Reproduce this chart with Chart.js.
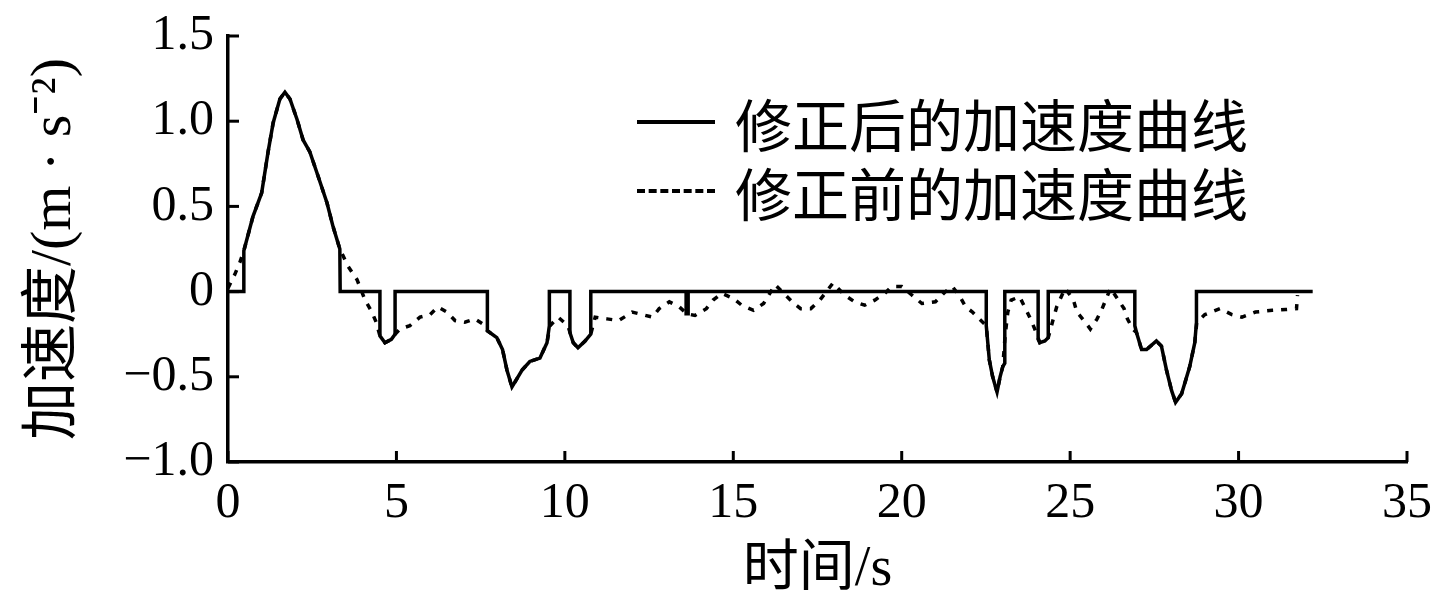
<!DOCTYPE html>
<html>
<head>
<meta charset="utf-8">
<script src="https://cdn.jsdelivr.net/npm/chart.js@4.4.1/dist/chart.umd.min.js"></script>
<style>
  html, body { margin: 0; padding: 0; background: #fff; }
  #wrap { position: relative; width: 1437px; height: 611px; }
  #legend { position: absolute; left: 637px; top: 87px; font-family: "Noto Sans CJK SC", sans-serif; font-size: 57px; color: #000; }
  .row { display: flex; align-items: center; height: 69px; }
  .sw { width: 78px; height: 0; margin-right: 20px; }
  .solid { border-top: 4px solid #000; }
  .dash { border-top: 4px dashed #000; }
</style>
</head>
<body>
<div id="wrap">
  <canvas id="c" width="1437" height="611"></canvas>
  <div id="legend">
    <div class="row"><span class="sw solid"></span><span id="lg0"></span></div>
    <div class="row"><span class="sw dash"></span><span id="lg1"></span></div>
  </div>
</div>
<script>
// ---- data ----
const seriesNames = ['修正后的加速度曲线', '修正前的加速度曲线'];
const xTitle = '时间/s';
const yTitle = '加速度/(m · s⁻²)';
const yTickValues = [-1, -0.5, 0, 0.5, 1, 1.5];
const yTickLabels = ['\u22121.0', '\u22120.5', '0', '0.5', '1.0', '1.5'];
const xTickLabels = ['0', '5', '10', '15', '20', '25', '30', '35'];

// corrected acceleration (solid)
const afterT = [0, 0.47, 0.47, 0.74, 1.0, 1.19, 1.34, 1.54, 1.69, 1.84, 2.05, 2.23, 2.43, 2.67, 2.94, 3.12, 3.32, 3.33,
  4.51, 4.51, 4.66, 4.85, 4.96, 4.96, 7.7, 7.7, 7.98, 8.15, 8.28, 8.43, 8.73, 8.96, 9.26, 9.47, 9.54, 9.54,
  10.15, 10.15, 10.25, 10.39, 10.6, 10.77, 10.77, 13.6, 13.6, 13.66, 13.66,
  22.51, 22.51, 22.6, 22.7, 22.83, 22.92, 23.0, 23.06, 23.06,
  24.05, 24.05, 24.1, 24.25, 24.35, 24.35,
  26.92, 26.92, 26.97, 27.12, 27.27, 27.56, 27.71, 27.86, 28.01, 28.13, 28.31, 28.55, 28.7, 28.75, 28.75, 32.2];
const afterV = [0, 0, 0.24, 0.44, 0.58, 0.82, 0.99, 1.13, 1.17, 1.13, 1.01, 0.89, 0.82, 0.68, 0.52, 0.38, 0.25, 0,
  0, -0.26, -0.30, -0.28, -0.25, 0, 0, -0.23, -0.27, -0.34, -0.46, -0.56, -0.46, -0.41, -0.39, -0.30, -0.2, 0,
  0, -0.24, -0.3, -0.33, -0.29, -0.25, 0, 0, -0.13, -0.13, 0,
  0, -0.2, -0.4, -0.5, -0.59, -0.5, -0.44, -0.42, 0,
  0, -0.28, -0.30, -0.29, -0.27, 0,
  0, -0.2, -0.24, -0.34, -0.34, -0.29, -0.32, -0.46, -0.58, -0.65, -0.6, -0.44, -0.3, -0.18, 0, 0];

// acceleration before correction (dotted)
const beforeT = [0, 0.2, 0.35, 0.47, 0.74, 1.0, 1.19, 1.34, 1.54, 1.69, 1.84, 2.05, 2.23, 2.43, 2.67, 2.94, 3.12, 3.32,
  3.56, 3.83, 4.07, 4.27, 4.4, 4.51, 4.66, 4.85, 4.96, 5.1, 5.4, 5.7, 6.0, 6.23, 6.5, 6.74, 7.03, 7.33, 7.57, 7.7,
  7.98, 8.15, 8.28, 8.43, 8.73, 8.96, 9.26, 9.47, 9.56, 9.8, 10.09, 10.25, 10.39, 10.6, 10.77,
  10.9, 11.25, 11.6, 12.0, 12.3, 12.6, 12.8, 13.1, 13.4, 13.62, 13.86, 14.2, 14.4, 14.66, 15.0, 15.25, 15.6, 15.9,
  16.24, 16.5, 16.8, 17.0, 17.3, 17.57, 17.96, 18.3, 18.6, 18.9, 19.2, 19.5, 19.7, 20.0, 20.3, 20.6, 21.0, 21.3,
  21.5, 21.7, 21.9, 22.1, 22.3, 22.51, 22.6, 22.7, 22.83, 22.92, 23.0, 23.07, 23.15, 23.25, 23.5, 23.8, 23.95,
  24.1, 24.25, 24.35, 24.5, 24.6, 24.85, 25.1, 25.2, 25.45, 25.6, 25.8, 25.95, 26.2, 26.4, 26.6, 26.7, 26.86,
  26.97, 27.12, 27.27, 27.56, 27.71, 27.86, 28.01, 28.13, 28.31, 28.55, 28.7, 28.76, 29.0, 29.45, 29.8, 30.1,
  30.5, 31.0, 31.4, 31.72, 31.75];
const beforeV = [0.02, 0.1, 0.17, 0.24, 0.44, 0.58, 0.82, 0.99, 1.13, 1.17, 1.13, 1.01, 0.89, 0.82, 0.68, 0.52, 0.38, 0.25,
  0.15, 0.07, -0.05, -0.12, -0.18, -0.26, -0.30, -0.28, -0.25, -0.22, -0.2, -0.15, -0.135, -0.09, -0.12, -0.17, -0.18, -0.16, -0.19, -0.23,
  -0.27, -0.34, -0.46, -0.56, -0.46, -0.41, -0.39, -0.30, -0.2, -0.15, -0.2, -0.3, -0.33, -0.29, -0.25,
  -0.15, -0.16, -0.17, -0.12, -0.135, -0.15, -0.1, -0.06, -0.09, -0.13, -0.14, -0.1, -0.05, -0.01, -0.04, -0.08, -0.11, -0.07,
  0.04, -0.01, -0.07, -0.1, -0.1, -0.05, 0.05, -0.02, -0.06, -0.08, -0.05, -0.01, 0.03, 0.03, -0.02, -0.07, -0.06, 0,
  0.03, -0.02, -0.09, -0.12, -0.16, -0.2, -0.4, -0.5, -0.59, -0.5, -0.44, -0.26, -0.12, -0.05, -0.03, -0.15, -0.22,
  -0.30, -0.29, -0.27, -0.16, -0.09, 0.02, -0.05, -0.12, -0.18, -0.22, -0.16, -0.1, 0.02, -0.04, -0.1, -0.16, -0.22,
  -0.24, -0.34, -0.34, -0.29, -0.32, -0.46, -0.58, -0.65, -0.6, -0.44, -0.3, -0.18, -0.135, -0.1, -0.135, -0.15,
  -0.12, -0.11, -0.105, -0.1, -0.02];

const toPts = (ts, vs) => ts.map((t, i) => ({ x: t, y: vs[i] }));

document.getElementById('lg0').textContent = seriesNames[0];
document.getElementById('lg1').textContent = seriesNames[1];

const serif = "'Liberation Serif', 'Times New Roman', 'Noto Sans CJK SC', serif";

const inwardTicks = {
  id: 'inwardTicks',
  afterDraw(chart) {
    const ctx = chart.ctx;
    const xs = chart.scales.x, ys = chart.scales.y;
    const ca = chart.chartArea;
    ctx.save();
    ctx.strokeStyle = '#000';
    ctx.lineWidth = 3;
    xs.ticks.forEach(t => {
      const px = xs.getPixelForValue(t.value);
      ctx.beginPath(); ctx.moveTo(px, ca.bottom); ctx.lineTo(px, ca.bottom - 11); ctx.stroke();
    });
    ys.ticks.forEach(t => {
      const py = ys.getPixelForValue(t.value);
      ctx.beginPath(); ctx.moveTo(ca.left, py); ctx.lineTo(ca.left + 11, py); ctx.stroke();
    });
    ctx.restore();
  }
};

new Chart(document.getElementById('c'), {
  type: 'line',
  data: {
    datasets: [
      { label: seriesNames[1], data: toPts(beforeT, beforeV), borderColor: '#000', borderWidth: 3.5,
        borderDash: [6, 8], pointRadius: 0, tension: 0, fill: false },
      { label: seriesNames[0], data: toPts(afterT, afterV), borderColor: '#000', borderWidth: 3.5,
        pointRadius: 0, tension: 0, fill: false }
    ]
  },
  options: {
    responsive: false,
    animation: false,
    layout: { padding: { left: 10, right: 30, top: 36, bottom: 5 } },
    plugins: { legend: { display: false }, tooltip: { enabled: false } },
    scales: {
      x: {
        type: 'linear', min: 0, max: 35,
        afterBuildTicks: s => { s.ticks = xTickLabels.map(v => ({ value: Number(v) })); },
        ticks: { callback: v => xTickLabels[xTickLabels.indexOf(String(v))] ?? '', color: '#000', padding: 12,
          font: { family: serif, size: 50 }, maxRotation: 0, autoSkip: false },
        grid: { display: false, drawTicks: false },
        border: { display: true, color: '#000', width: 3.5 },
        title: { display: true, text: xTitle, color: '#000', font: { family: serif, size: 56 }, padding: { top: 0, bottom: 2 } },
        afterFit: s => { s.height = 611 - 462 - 5; s.paddingLeft = 0; s.paddingRight = 0; }
      },
      y: {
        type: 'linear', min: -1, max: 1.5,
        afterBuildTicks: s => { s.ticks = yTickValues.map(v => ({ value: v })); },
        ticks: { callback: v => yTickLabels[yTickValues.indexOf(v)], color: '#000', padding: 14,
          font: { family: serif, size: 50 }, autoSkip: false },
        grid: { display: false, drawTicks: false },
        border: { display: true, color: '#000', width: 3.5 },
        title: { display: true, text: yTitle, color: '#000', font: { family: serif, size: 58 }, padding: { top: 10, bottom: 0 } },
        afterFit: s => { s.width = 228 - 10; s.paddingTop = 0; s.paddingBottom = 0; }
      }
    }
  },
  plugins: [inwardTicks]
});
</script>
</body>
</html>
